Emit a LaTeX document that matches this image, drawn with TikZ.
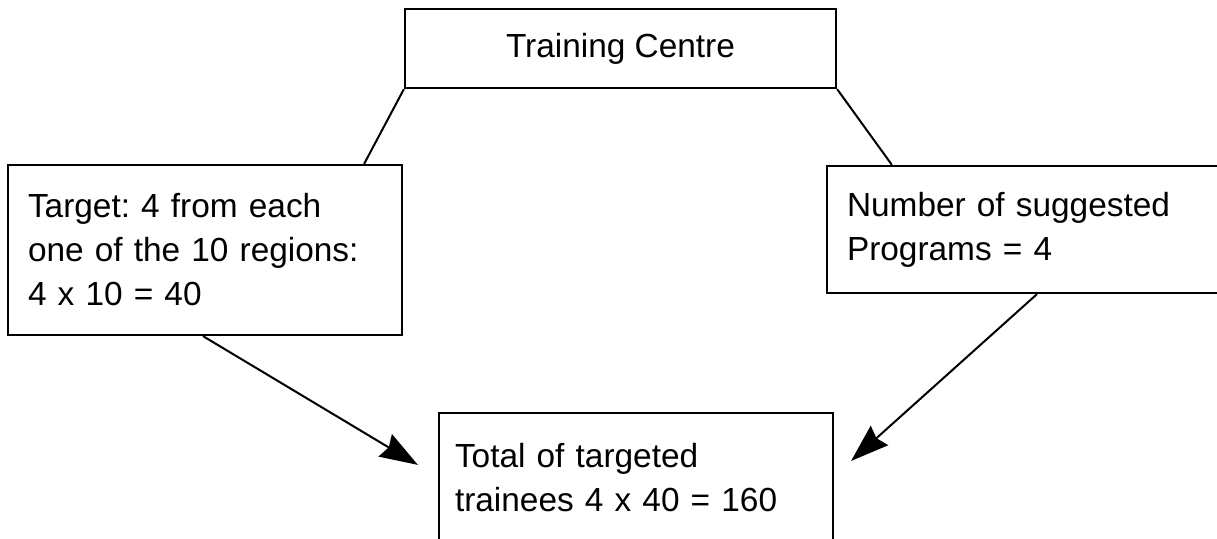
\documentclass[tikz,border=0pt]{standalone}
\usepackage{fontspec}
\setmainfont{Liberation Sans}
\usetikzlibrary{arrows.meta,calc}

\tikzset{
  box/.style={draw, line width=2.2pt, rectangle, align=left, inner ysep=0pt,
    font=\fontsize{33.4}{44}\selectfont},
  link/.style={line width=2pt},
  flow/.style={line width=2pt, -{Stealth[length=38pt, width=26pt, inset=4pt]}}
}

\begin{document}
\frenchspacing
\begin{tikzpicture}[x=1pt, y=-1pt]
  \clip (0,0) rectangle (1217,538);
  \fill[white] (0,0) rectangle (1217,538);

  % top box
  \node[box, minimum width=431pt, minimum height=79pt] (centre) at (620.5,48.5)
    {Training Centre};

  % left box: regional target
  \node[box, text width=354pt, inner xsep=20pt, minimum height=170pt] (regions) at (205,250)
    {Target: 4 from each\\one of the 10 regions:\\4 x 10 = 40};

  % right box: programs (runs past the right margin)
  \node[box, text width=380pt, inner xsep=20pt, minimum height=127pt] (programs) at (1037,229.5)
    {Number of suggested\\Programs = 4};

  % bottom box: total (runs past the bottom margin)
  \node[box, text width=362pt, inner xsep=16pt, minimum height=130pt] (total) at (636,478)
    {Total of targeted\\trainees 4 x 40 = 160};

  % links from the centre
  \draw[link] (centre.south west) -- ([xshift=-39pt]regions.north east);
  \draw[link] (centre.south east) -- ([xshift=66pt]programs.north west);

  % arrows to the total
  \draw[flow] ([xshift=-2pt]regions.south) -- ([xshift=-20pt, yshift=-53pt]total.north west);
  \draw[flow] (programs.south) -- ([xshift=17pt, yshift=-49pt]total.north east);
\end{tikzpicture}
\end{document}
